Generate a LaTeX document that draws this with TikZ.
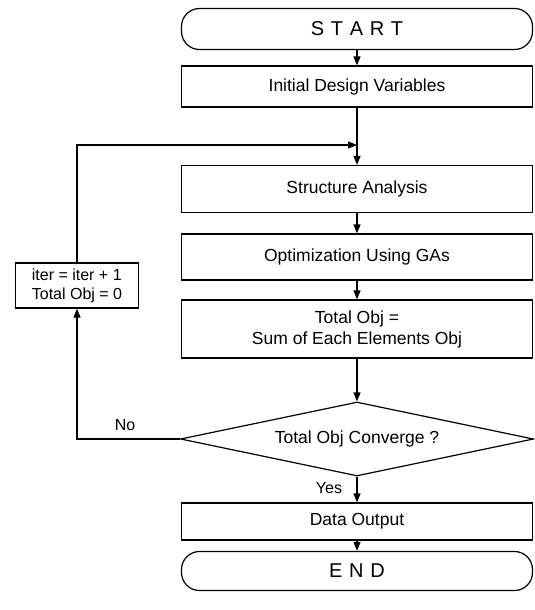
\documentclass[tikz,border=0pt]{standalone}
\usepackage{fontspec}
\setmainfont{Liberation Sans}
\usetikzlibrary{arrows.meta,shapes.geometric,calc}
\begin{document}
\begin{tikzpicture}[x=1pt,y=-1pt,
  every path/.style={line width=1.2pt},
  box/.style={draw,line width=1.2pt,minimum width=351pt,inner sep=0pt,font=\fontsize{17.5}{21}\selectfont,align=center},
  term/.style={box,rounded corners=18pt,font=\fontsize{20}{22}\selectfont},
  dec/.style={draw,line width=1.2pt,diamond,aspect=4.8,inner sep=0pt,minimum width=353pt,minimum height=74pt,font=\fontsize{17.5}{21}\selectfont},
  arr/.style={-{Triangle[length=9pt,width=7pt]},line width=1.2pt},
  lbl/.style={font=\fontsize{16}{18}\selectfont}]
\useasboundingbox (0,0) rectangle (535,610);
\node[term,minimum height=41pt] (start) at (357,29) {S\,\,T\,\,A\,\,R\,\,T};
\node[box,minimum height=41pt] (init) at (357,86.5) {Initial Design Variables};
\node[box,minimum height=47pt] (struct) at (357,189) {Structure Analysis};
\node[box,minimum height=46pt] (opt) at (357,257) {Optimization Using GAs};
\node[box,minimum height=58pt] (total) at (357,329) {Total Obj =\\Sum of Each Elements Obj};
\node[dec] (conv) at (357,439) {Total Obj Converge ?};
\node[box,minimum height=37pt] (data) at (357,521.5) {Data Output};
\node[term,minimum height=39pt] (end) at (357,571) {E\,\,N\,\,D};
\node[draw,line width=1.2pt,minimum width=123pt,minimum height=45pt,inner sep=0pt,align=left,font=\fontsize{16}{19}\selectfont] (iter) at (77,285.5) {iter = iter + 1\\Total Obj = 0};
\coordinate (join) at (357,145);
\draw[arr] (start) -- (init);
\draw[arr] (init) -- (struct);
\draw[arr] (struct) -- (opt);
\draw[arr] (opt) -- (total);
\draw[arr] (total) -- (conv);
\draw[arr] (conv) -- (data);
\draw[arr] (data) -- (end);
\draw[arr] (conv.west) -| (iter.south);
\draw[arr] (iter.north) |- (join);
\node[lbl] (no) at (125,425) {No};
\node[lbl] (yes) at (329,488) {Yes};
\end{tikzpicture}
\end{document}
